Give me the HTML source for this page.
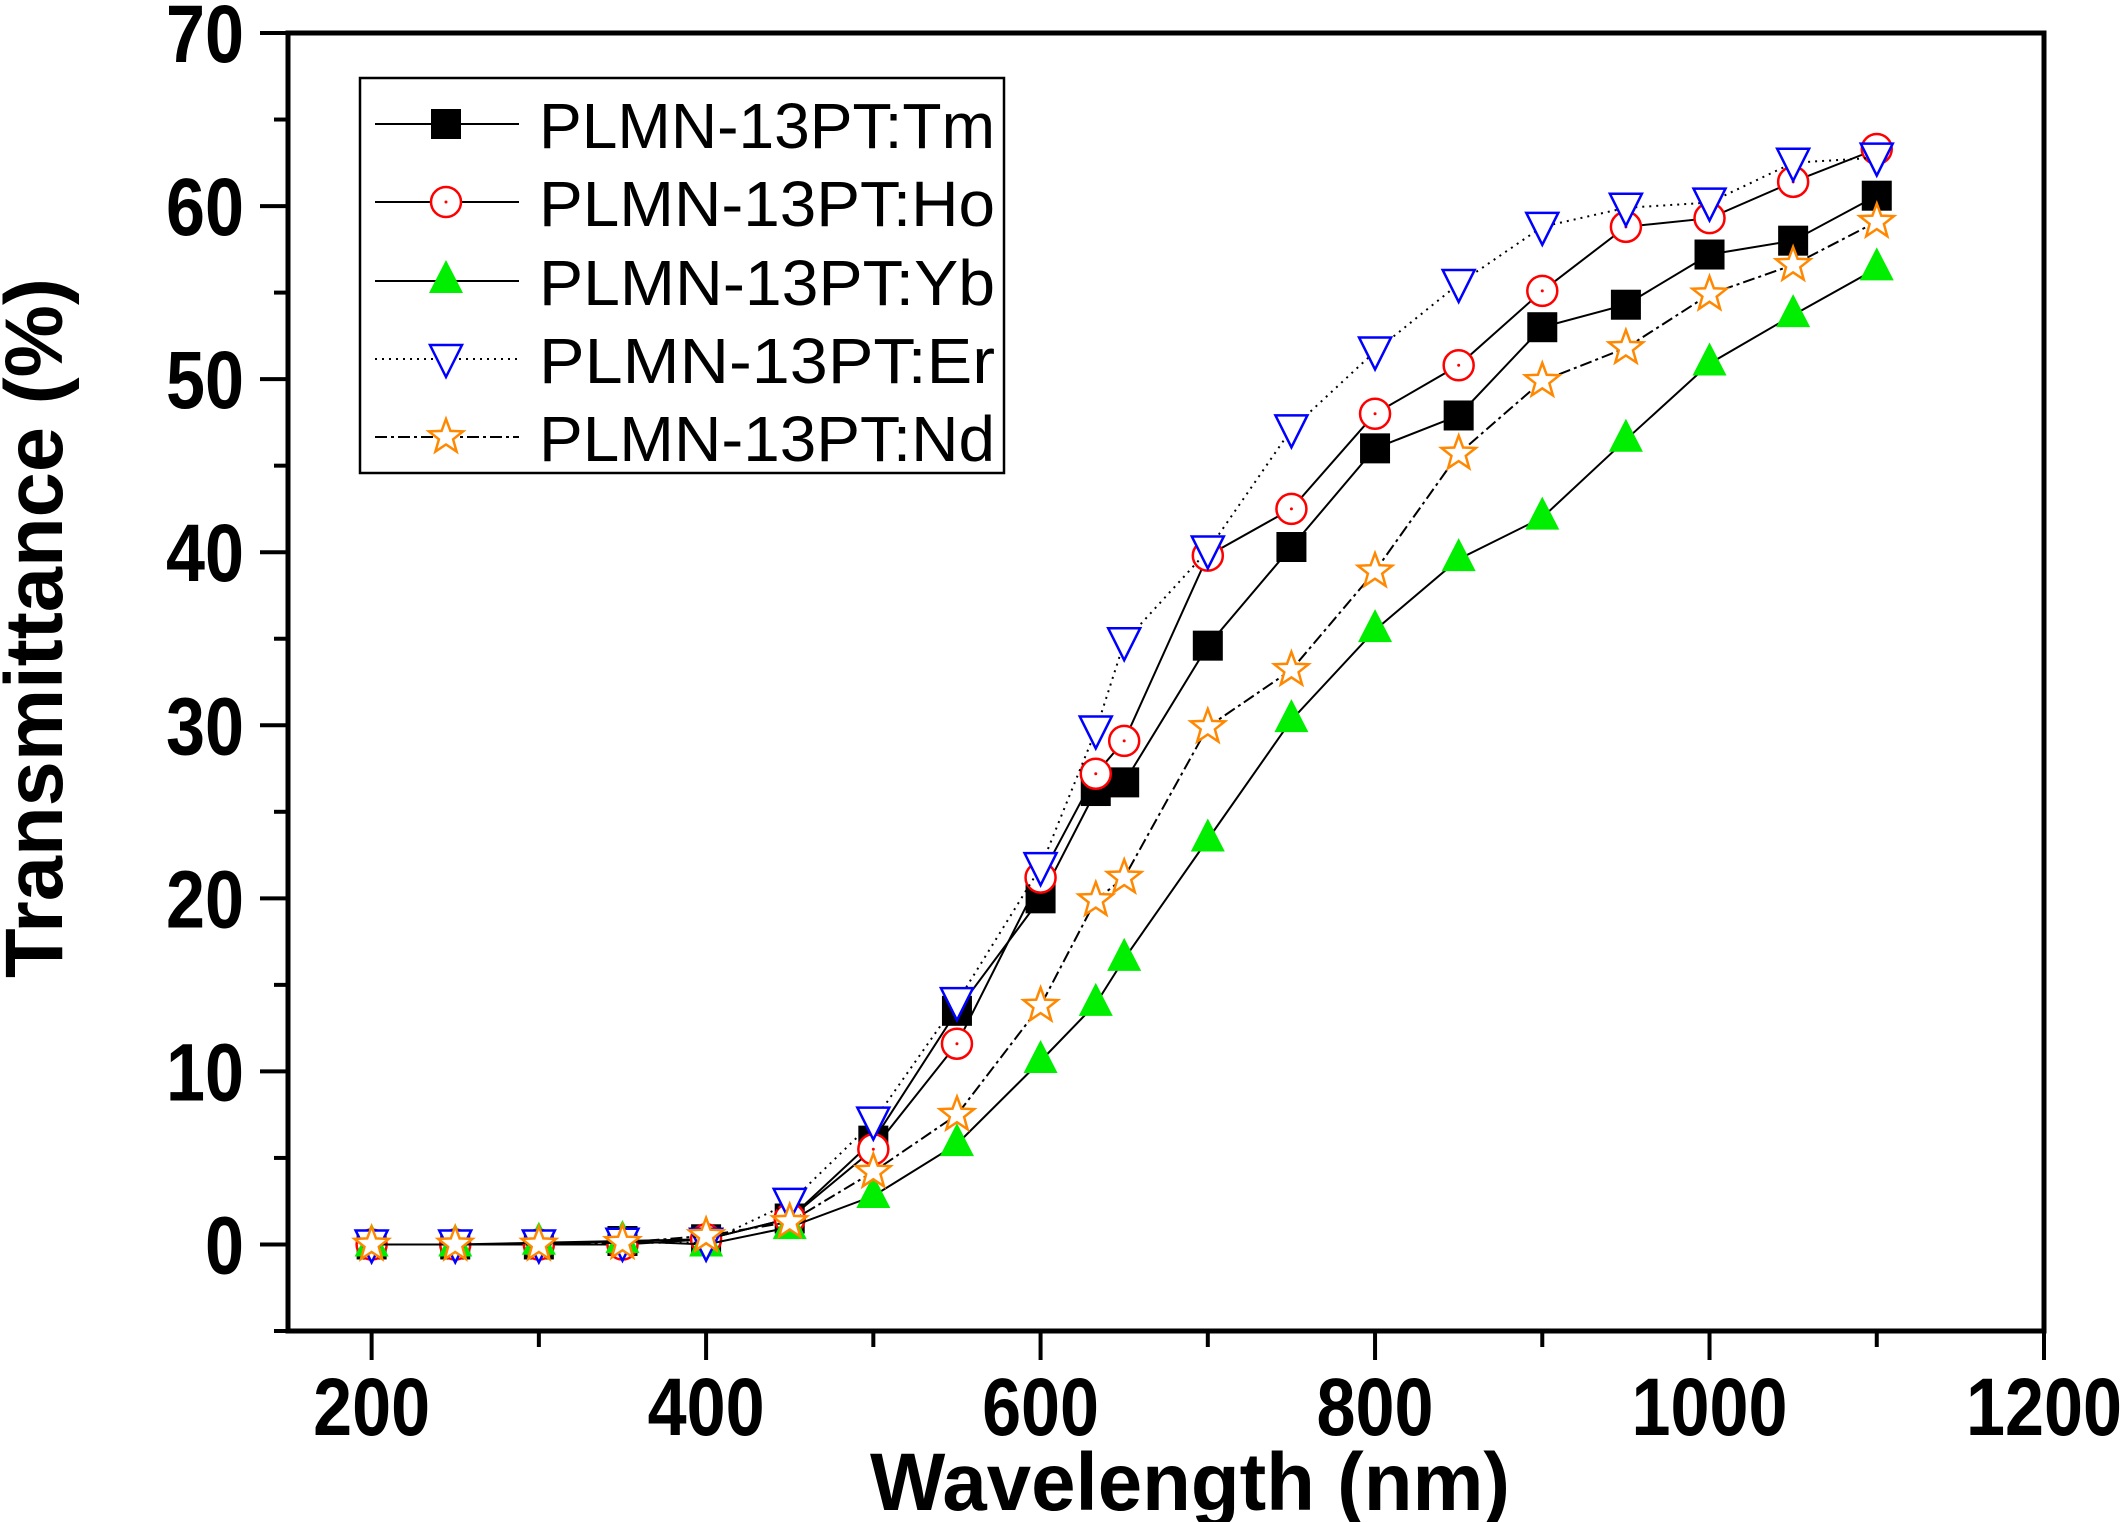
<!DOCTYPE html>
<html><head><meta charset="utf-8"><style>
body{margin:0;background:#fff}
svg{display:block}
text{font-family:"Liberation Sans",sans-serif}
</style></head><body>
<svg id="chart" width="2125" height="1522" viewBox="0 0 2125 1522" xmlns="http://www.w3.org/2000/svg">
<g id="plot"></g>
</svg>
<script>
const wavelengths=[200,250,300,350,400,450,500,550,600,633,650,700,750,800,850,900,950,1000,1050,1100];
const tmValues=[0,0,0,0.2,0.3,1.5,6,13.5,20,26.2,26.7,34.6,40.3,46,47.9,53,54.3,57.2,58,60.6];
const hoValues=[0,0,0,0,0.3,1.5,5.5,11.6,21.2,27.2,29.1,39.8,42.5,48,50.8,55.1,58.8,59.3,61.4,63.3];
const ybValues=[0,0,0.1,0.2,0,1.0,2.8,5.8,10.6,13.9,16.5,23.4,30.3,35.5,39.6,42,46.5,50.9,53.7,56.4];
const erValues=[0,0,0,0.1,0.1,2.4,7.1,14,21.8,29.7,34.8,40.1,47.1,51.6,55.5,58.8,59.9,60.2,62.5,62.8];
const ndValues=[0,0,0,0.1,0.5,1.3,4.2,7.5,13.8,19.9,21.2,29.9,33.2,38.9,45.7,49.9,51.8,54.9,56.6,59.1];
const xTicks=[200,400,600,800,1000,1200];
const yTicks=[0,10,20,30,40,50,60,70];
const seriesNames=["PLMN-13PT:Tm","PLMN-13PT:Ho","PLMN-13PT:Yb","PLMN-13PT:Er","PLMN-13PT:Nd"];

const X0=288,X1=2044,Y0=33,Y1=1331;
const xs=v=>X0+(v-150)/(1200-150)*(X1-X0);
const ys=v=>Y1-(v+5)/(70+5)*(Y1-Y0);
const NS="http://www.w3.org/2000/svg";
const g=document.getElementById('plot');
function mk(tag,attrs,parent){const e=document.createElementNS(NS,tag);for(const k in attrs)e.setAttribute(k,attrs[k]);(parent||g).appendChild(e);return e;}

for(let v=200;v<=1200;v+=100){const major=v%200===0;
 const t=mk('line',{x1:xs(v),x2:xs(v),y1:Y1,y2:Y1+(major?29:16),stroke:'#000','stroke-width':4});
 
 }
for(let v=-5;v<=70;v+=5){const major=v%10===0;
 const t=mk('line',{x1:X0,x2:X0-(major?28:14),y1:ys(v),y2:ys(v),stroke:'#000','stroke-width':4});
 
 }
xTicks.forEach(v=>{const n=String(v).length;const t=mk('text',{x:xs(v),y:1435,'font-size':82,'font-weight':'bold','text-anchor':'middle',textLength:n*39,lengthAdjust:'spacingAndGlyphs'});t.textContent=v;
 
 });
yTicks.forEach(v=>{const n=String(v).length;const t=mk('text',{x:244-n*39,y:ys(v)+29,'font-size':82,'font-weight':'bold',textLength:n*39,lengthAdjust:'spacingAndGlyphs'});t.textContent=v;
 
 });

const fr=mk('rect',{x:X0,y:Y0,width:X1-X0,height:Y1-Y0,fill:'none',stroke:'#000','stroke-width':5});



const xt=mk('text',{x:1190,y:1510,'font-size':82,'font-weight':'bold','text-anchor':'middle',textLength:640,lengthAdjust:'spacingAndGlyphs'});xt.textContent='Wavelength (nm)';


const yt=mk('text',{x:0,y:0,'font-size':82,'font-weight':'bold','text-anchor':'middle',textLength:700,lengthAdjust:'spacingAndGlyphs',transform:'translate(62,628) rotate(-90)'});yt.textContent='Transmittance (%)';



function marker(type,cx,cy,parent){
 if(type===0) return mk('rect',{x:cx-15,y:cy-15,width:30,height:30,fill:'#000'},parent);
 if(type===1){const gg=mk('g',{},parent);mk('circle',{cx,cy,r:15,fill:'#fff',stroke:'#f00','stroke-width':2.5},gg);mk('circle',{cx,cy,r:1.5,fill:'#f00'},gg);return gg;}
 if(type===2) return mk('polygon',{points:`${cx},${cy-21} ${cx+17},${cy+12} ${cx-17},${cy+12}`,fill:'#0e0'},parent);
 if(type===3) return mk('polygon',{points:`${cx-16},${cy-14} ${cx+16},${cy-14} ${cx},${cy+18}`,fill:'#fff',stroke:'#00f','stroke-width':2.5},parent);
 let p=[];for(let i=0;i<10;i++){const r=i%2?7.5:18,a=-Math.PI/2+i*Math.PI/5;p.push((cx+r*Math.cos(a)).toFixed(1)+','+(cy+r*Math.sin(a)).toFixed(1));}
 return mk('polygon',{points:p.join(' '),fill:'#fff',stroke:'#f80','stroke-width':2.5},parent);
}
const dashes=['none','none','none','2,5','12,4,3,4'];
const allVals=[tmValues,hoValues,ybValues,erValues,ndValues];
const sNames=['tm','ho','yb','er','nd'];
allVals.forEach((vals,si)=>{
 const sg=mk('g',{});
 
 
 const pts=vals.map((v,i)=>xs(wavelengths[i]).toFixed(1)+','+ys(v).toFixed(1)).join(' ');
 const l=mk('polyline',{points:pts,fill:'none',stroke:'#000','stroke-width':2,'stroke-dasharray':dashes[si]},sg);
 
 
 vals.forEach((v,i)=>{const m=marker(si,xs(wavelengths[i]),ys(v),sg);
  
  });
});

const lg=mk('g',{});


mk('rect',{x:360,y:78,width:644,height:395,fill:'#fff',stroke:'#000','stroke-width':2.5},lg);
const ly=[124,202,281,359,437];
seriesNames.forEach((n,i)=>{
 const e=mk('g',{},lg);
 
 
 mk('line',{x1:375,x2:519,y1:ly[i],y2:ly[i],stroke:'#000','stroke-width':2,'stroke-dasharray':dashes[i]},e);
 marker(i,446,ly[i],e);
 const t=mk('text',{x:539,y:ly[i]+24,'font-size':64,textLength:456,lengthAdjust:'spacingAndGlyphs'},e);t.textContent=n;
});
</script>
</body></html>
